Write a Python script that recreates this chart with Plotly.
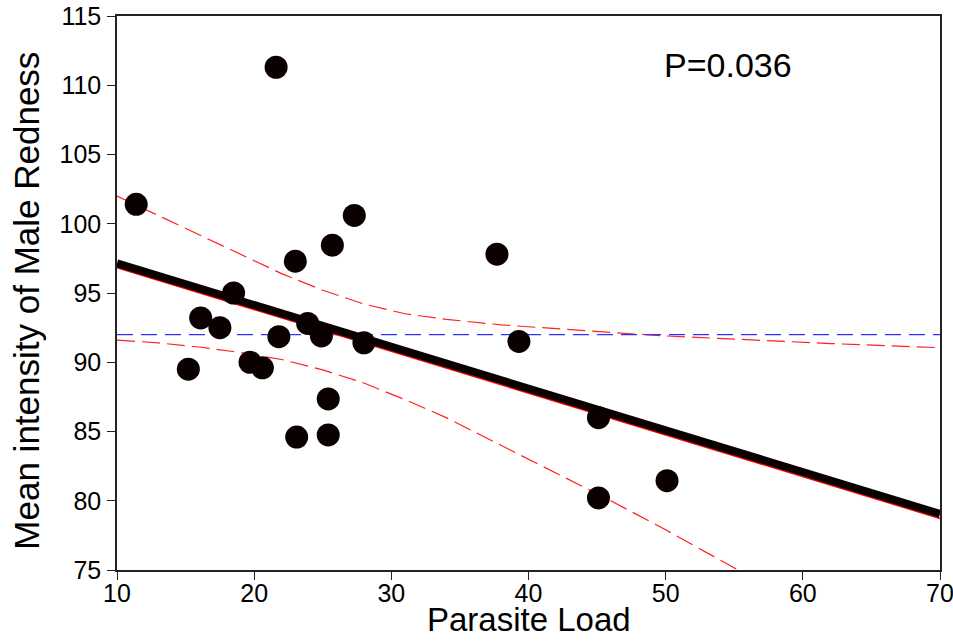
import plotly.graph_objects as go

# Observed data points (parasite load vs. mean intensity of male redness)
parasite_load = [11.4, 21.6, 23.0, 18.5, 15.2, 16.1, 17.5, 19.7, 20.6, 21.8, 23.1,
                 23.9, 24.9, 25.4, 25.4, 25.7, 27.3, 28.0, 37.7, 39.3, 45.1, 45.1, 50.1]
redness = [101.4, 111.3, 97.3, 95.0, 89.5, 93.2, 92.5, 90.0, 89.6, 91.85, 84.6,
           92.8, 91.9, 84.75, 87.35, 98.45, 100.6, 91.4, 97.8, 91.5, 86.0, 80.2, 81.45]

# Regression line endpoints
fit_x = [10, 70]
fit_y = [97.15, 79.05]
fit_red_y = [96.82, 78.72]

# Confidence band
upper_x = [10, 13, 16, 19, 22, 25, 28, 31, 34, 38, 42, 46, 50, 56, 62, 70]
upper_y = [102.0, 100.6, 99.2, 97.8, 96.4, 95.2, 94.2, 93.5, 93.1, 92.7, 92.4, 92.15, 91.9, 91.6, 91.35, 91.05]
lower_x = [10, 13, 16, 19, 22, 25, 28, 31, 34, 38, 42, 46, 50, 54, 56]
lower_y = [91.6, 91.4, 91.1, 90.7, 90.2, 89.45, 88.5, 87.3, 86.0, 84.0, 82.0, 80.0, 77.9, 75.7, 74.6]

# Mean reference line
mean_x = [10, 70]
mean_y = [92.0, 92.0]

x_ticks = [10, 20, 30, 40, 50, 60, 70]
y_ticks = [75, 80, 85, 90, 95, 100, 105, 110, 115]
x_title = "Parasite Load"
y_title = "Mean intensity of Male Redness"
p_text = "P=0.036"

FONT = "Liberation Sans, Arial, sans-serif"

fig = go.Figure()
fig.add_trace(go.Scatter(x=upper_x, y=upper_y, mode="lines", line=dict(color="#ff2020", width=1.2, dash="18px,7px")))
fig.add_trace(go.Scatter(x=lower_x, y=lower_y, mode="lines", line=dict(color="#ff2020", width=1.2, dash="18px,7px")))
fig.add_trace(go.Scatter(x=mean_x, y=mean_y, mode="lines", line=dict(color="#3030ff", width=1.2, dash="16px,8px")))
fig.add_trace(go.Scatter(x=fit_x, y=fit_red_y, mode="lines", line=dict(color="#ff0000", width=1.5)))
fig.add_trace(go.Scatter(x=fit_x, y=fit_y, mode="lines", line=dict(color="#0a0000", width=8)))
fig.add_trace(go.Scatter(x=parasite_load, y=redness, mode="markers",
                         marker=dict(size=23, color="#0a0000", line=dict(width=0))))

fig.add_annotation(x=54.55, y=111.45, text=p_text, showarrow=False,
                   font=dict(size=34, color="black", family=FONT))
# axis titles
fig.add_annotation(x=0.5, y=-0.1265, xref="paper", yref="paper", text=x_title,
                   showarrow=False, xanchor="center", yanchor="bottom",
                   font=dict(size=33, color="black", family=FONT))
fig.add_annotation(x=-0.11, y=0.487, xref="paper", yref="paper", text=y_title,
                   showarrow=False, xanchor="center", yanchor="middle", textangle=-90,
                   font=dict(size=35, color="black", family=FONT))

axis_common = dict(showgrid=False, zeroline=False, showline=True, linecolor="#222222",
                   linewidth=1.5, mirror=True, ticks="outside", ticklen=8, tickwidth=1.2,
                   tickcolor="#222222", tickfont=dict(size=25, color="black", family=FONT),
                   automargin=False, ticklabeloverflow="allow")

fig.update_xaxes(range=[10, 70], tickvals=x_ticks, ticklabelstandoff=-8, **axis_common)
fig.update_yaxes(range=[75, 115], tickvals=y_ticks, ticklabelstandoff=1, **axis_common)

fig.update_layout(width=953, height=642, showlegend=False,
                  plot_bgcolor="white", paper_bgcolor="white",
                  margin=dict(l=117, r=13, t=16, b=72, autoexpand=False),
                  font=dict(family=FONT, color="black"))

fig.write_html("out.html", config={"displayModeBar": False},
               post_script="document.body.style.margin='0';document.body.style.padding='0';")
